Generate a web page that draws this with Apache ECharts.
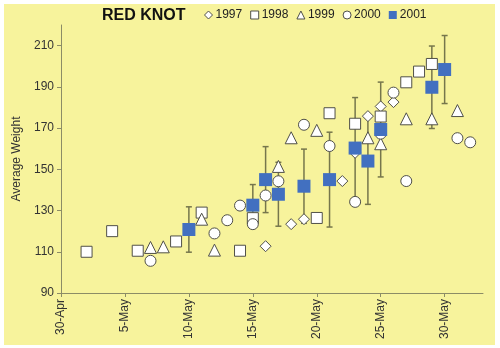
<!DOCTYPE html>
<html>
<head>
<meta charset="utf-8">
<script src="https://cdn.jsdelivr.net/npm/echarts@6/dist/echarts.min.js"></script>
<style>
  html, body { margin: 0; padding: 0; background: #ffffff; }
  #chart { width: 500px; height: 348px; }
</style>
</head>
<body>
<div id="chart"></div>
<script>
// Day offsets counted from 30-Apr (so 1 = 1-May, 31 = 31-May)
var xTickDays = [0, 5, 10, 15, 20, 25, 30];
var xTickLabels = ['30-Apr', '5-May', '10-May', '15-May', '20-May', '25-May', '30-May'];
var yTicks = [90, 110, 130, 150, 170, 190, 210];

var days1997 = [16, 18, 19, 22, 23, 24, 25, 26];
var weight1997 = [112.7, 123.4, 125.8, 144.3, 158, 175.8, 180.5, 182.6];

var days1998 = [2, 4, 6, 9, 11, 14, 15, 20, 21, 23, 25, 27, 28, 29];
var weight1998 = [110, 120, 110.5, 115, 129, 110.5, 126.3, 126.4, 177.2, 172.1, 175.6, 192.2, 197.4, 201.1];

var days1999 = [7, 8, 11, 12, 17, 18, 20, 24, 25, 27, 29, 31];
var weight1999 = [112.1, 112.4, 125.8, 110.8, 151.4, 165.3, 168.9, 165.3, 162.4, 174.5, 174.5, 178.5];

var days2000 = [7, 12, 13, 14, 15, 16, 17, 19, 21, 23, 25, 26, 27, 31, 32];
var weight2000 = [105.6, 118.9, 125.3, 132.4, 123.4, 137.3, 144.2, 171.6, 161.3, 134.2, 167.3, 187.2, 144.3, 165.1, 163.1];

var days2001 = [10, 15, 16, 17, 19, 21, 23, 24, 25, 29, 30];
var weight2001 = [120.8, 132.6, 145.0, 137.9, 141.8, 145.0, 160.3, 154.0, 169.3, 189.8, 198.4];
var err2001 = [11, 10, 16, 15.5, 18, 23, 24.5, 21, 23, 20, 16.5];

function pairs(xs, ys) {
  return xs.map(function (x, i) { return [x, ys[i]]; });
}

var errData = days2001.map(function (d, i) {
  return [d, weight2001[i] - err2001[i], weight2001[i] + err2001[i]];
});

var FONT = '"Liberation Sans", Arial, sans-serif';
var openStyle = { color: '#ffffff', borderColor: '#505048', borderWidth: 1, opacity: 1 };
var barColor = '#76764c';

var chart = echarts.init(document.getElementById('chart'), null, { renderer: 'canvas' });

chart.setOption({
  animation: false,
  backgroundColor: '#ffffff',
  graphic: [{
    type: 'rect',
    z: -10,
    silent: true,
    shape: { x: 4, y: 4, width: 491, height: 341 },
    style: { fill: '#f7f39c' }
  }],
  title: {
    text: 'RED KNOT',
    left: 102,
    top: 8,
    padding: 0,
    textStyle: { fontFamily: FONT, fontSize: 16, fontWeight: 'bold', color: '#111111', lineHeight: 16 }
  },
  legend: {
    left: 204,
    top: 9,
    padding: 0,
    itemWidth: 8,
    itemHeight: 8,
    itemGap: 8,
    itemStyle: { borderWidth: 1 },
    textStyle: { fontFamily: FONT, fontSize: 12, color: '#222222', padding: [0, 0, 0, -2] },
    data: [
      { name: '1997', icon: 'diamond' },
      { name: '1998', icon: 'rect' },
      { name: '1999', icon: 'triangle' },
      { name: '2000', icon: 'circle' },
      { name: '2001', icon: 'rect' }
    ]
  },
  grid: { left: 61, right: 17, top: 25, bottom: 55, containLabel: false },
  xAxis: {
    type: 'value',
    min: 0,
    max: 33,
    interval: 5,
    splitLine: { show: false },
    axisLine: { lineStyle: { color: '#8c8c66', width: 1 } },
    axisTick: { length: 4, lineStyle: { color: '#8c8c66' }, customValues: xTickDays },
    axisLabel: {
      rotate: 90,
      margin: 6,
      fontFamily: FONT,
      fontSize: 12,
      color: '#333333',
      customValues: xTickDays,
      formatter: function (v) {
        var k = xTickDays.indexOf(v);
        return k >= 0 ? xTickLabels[k] : '';
      }
    }
  },
  yAxis: {
    type: 'value',
    min: 90,
    max: 220,
    interval: 20,
    name: 'Average Weight',
    nameLocation: 'middle',
    nameGap: 37,
    nameTextStyle: { fontFamily: FONT, fontSize: 12, color: '#333333' },
    splitLine: { show: false },
    axisLine: { show: true, lineStyle: { color: '#8c8c66', width: 1 } },
    axisTick: { length: 4, lineStyle: { color: '#8c8c66' }, customValues: yTicks },
    axisLabel: {
      margin: 7,
      fontFamily: FONT,
      fontSize: 12,
      color: '#333333',
      customValues: yTicks,
      formatter: function (v) {
        return yTicks.indexOf(v) >= 0 ? String(v) : '';
      }
    }
  },
  series: [
    {
      name: 'err2001',
      type: 'custom',
      z: 1,
      encode: { x: 0, y: [1, 2] },
      data: errData,
      renderItem: function (params, api) {
        var x = api.value(0);
        var lo = api.coord([x, api.value(1)]);
        var hi = api.coord([x, api.value(2)]);
        var cap = 3;
        var st = { stroke: barColor, lineWidth: 1.5 };
        return {
          type: 'group',
          children: [
            { type: 'line', shape: { x1: hi[0], y1: hi[1], x2: lo[0], y2: lo[1] }, style: st },
            { type: 'line', shape: { x1: hi[0] - cap, y1: hi[1], x2: hi[0] + cap, y2: hi[1] }, style: st },
            { type: 'line', shape: { x1: lo[0] - cap, y1: lo[1], x2: lo[0] + cap, y2: lo[1] }, style: st }
          ]
        };
      }
    },
    { name: '1997', type: 'scatter', z: 2, symbol: 'diamond', symbolSize: 11, itemStyle: openStyle, data: pairs(days1997, weight1997) },
    { name: '1998', type: 'scatter', z: 2, symbol: 'rect', symbolSize: 11, itemStyle: openStyle, data: pairs(days1998, weight1998) },
    { name: '1999', type: 'scatter', z: 2, symbol: 'triangle', symbolSize: 12, itemStyle: openStyle, data: pairs(days1999, weight1999) },
    { name: '2000', type: 'scatter', z: 2, symbol: 'circle', symbolSize: 11, itemStyle: openStyle, data: pairs(days2000, weight2000) },
    { name: '2001', type: 'scatter', z: 3, symbol: 'rect', symbolSize: 13, itemStyle: { color: '#4270c0', opacity: 1 }, data: pairs(days2001, weight2001) }
  ]
});
</script>
</body>
</html>
